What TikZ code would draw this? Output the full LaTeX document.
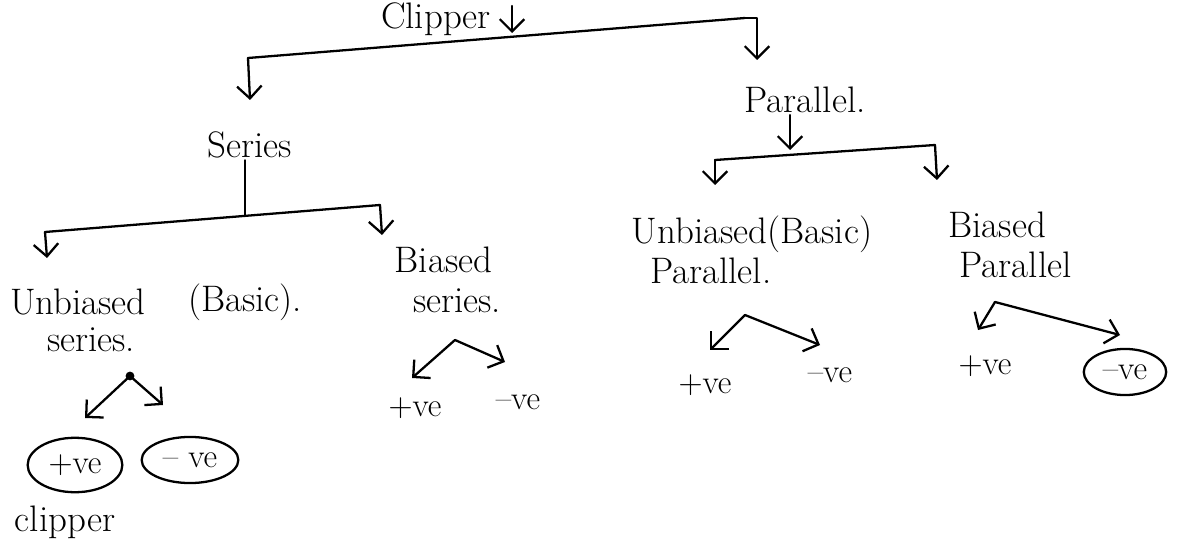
\documentclass[tikz,border=0pt]{standalone}
\usetikzlibrary{arrows.meta,shapes.geometric,calc}
\begin{document}
\begin{tikzpicture}[x=0.02cm,y=-0.02cm,
  lbl/.style={font=\fontsize{21}{25}\selectfont, inner sep=1pt},
  sm/.style={font=\fontsize{19}{22}\selectfont, inner sep=1pt},
  ln/.style={line width=1.3pt, line cap=round, line join=round},
  arr/.style={ln, -{Straight Barb[length=7pt,width=14pt,line width=1.3pt]}},
  circ/.style={draw, ellipse, line width=1.3pt, inner xsep=4pt, inner ysep=5pt}
]
\useasboundingbox (0,0) rectangle (1191,544);
% top
\node[lbl, anchor=north] (clip) at (436,1) {Clipper};
\coordinate (b0l) at (248,58);
\coordinate (b0r) at (745,18);
\coordinate (b0m) at (512,37);
\draw[arr] ($(clip.north -| b0m)+(0,5)$) -- ($(b0m)+(0,-4)$);
\draw[ln] (b0l) -- (b0r);
\node[lbl] (ser) at (250,145) {Series};
\node[lbl] (par) at (805,100) {Parallel.};
\draw[arr] (b0l) -- (250,100);
\draw[arr] (b0r) -- (757,18) -- (757,60);
% series branch
\coordinate (j1) at (245,215);
\coordinate (b1l) at (45,232);
\coordinate (b1r) at (380,205);
\draw[ln] (ser.south -| j1) -- (j1);
\draw[ln] (b1l) -- (b1r);
\draw[arr] (b1l) -- (47,258);
\draw[arr] (b1r) -- (382,235);
\node[lbl, align=left] (ubs) at (78,320) {Unbiased\\[-4pt]\hspace*{1em}series.};
\node[lbl] (basic1) at (245,302) {(Basic).};
\node[lbl, align=left] (bs) at (448,280) {Biased\\[-2pt]\hspace*{0.5em}series.};
% unbiased series children
\coordinate (d1) at (130,376);
\fill (d1) circle (2.5pt);
\node[sm, circ] (p1) at (75,465) {+ve};
\node[sm, circ] (m1) at (190,460) {-- ve};
\node[lbl] (clipper) at (65,522) {clipper};
\draw[arr] (d1) -- (85,418);
\draw[arr] (d1) -- (163,405);
% biased series children
\coordinate (d2) at (455,340);
\node[sm] (p2) at (415,408) {+ve};
\node[sm] (m2) at (518,402) {--ve};
\draw[arr] (d2) -- (412,378);
\draw[arr] (d2) -- (505,362);
% parallel branch
\coordinate (j2) at (790,150);
\coordinate (b2l) at (715,160);
\coordinate (b2r) at (935,145);
\draw[arr] (par.south -| j2) -- (j2);
\draw[ln] (b2l) -- (b2r);
\draw[arr] (b2l) -- (715,185);
\draw[arr] (b2r) -- (937,180);
\node[lbl, align=left] (ubp) at (752,250) {Unbiased(Basic)\\[-2pt]\hspace*{0.5em}Parallel.};
\node[lbl, align=left] (bp) at (1010,245) {Biased\\[-2pt]\hspace*{0.3em}Parallel};
% unbiased parallel children
\coordinate (d3) at (745,315);
\node[sm] (p3) at (705,385) {+ve};
\node[sm] (m3) at (830,375) {--ve};
\draw[arr] (d3) -- (710,350);
\draw[arr] (d3) -- (820,345);
% biased parallel children
\coordinate (d4) at (995,302);
\node[sm] (p4) at (985,366) {+ve};
\node[sm, circ] (m4) at (1125,372) {--ve};
\draw[arr] (d4) -- (978,330);
\draw[arr] (d4) -- (1120,335);
\end{tikzpicture}
\end{document}
